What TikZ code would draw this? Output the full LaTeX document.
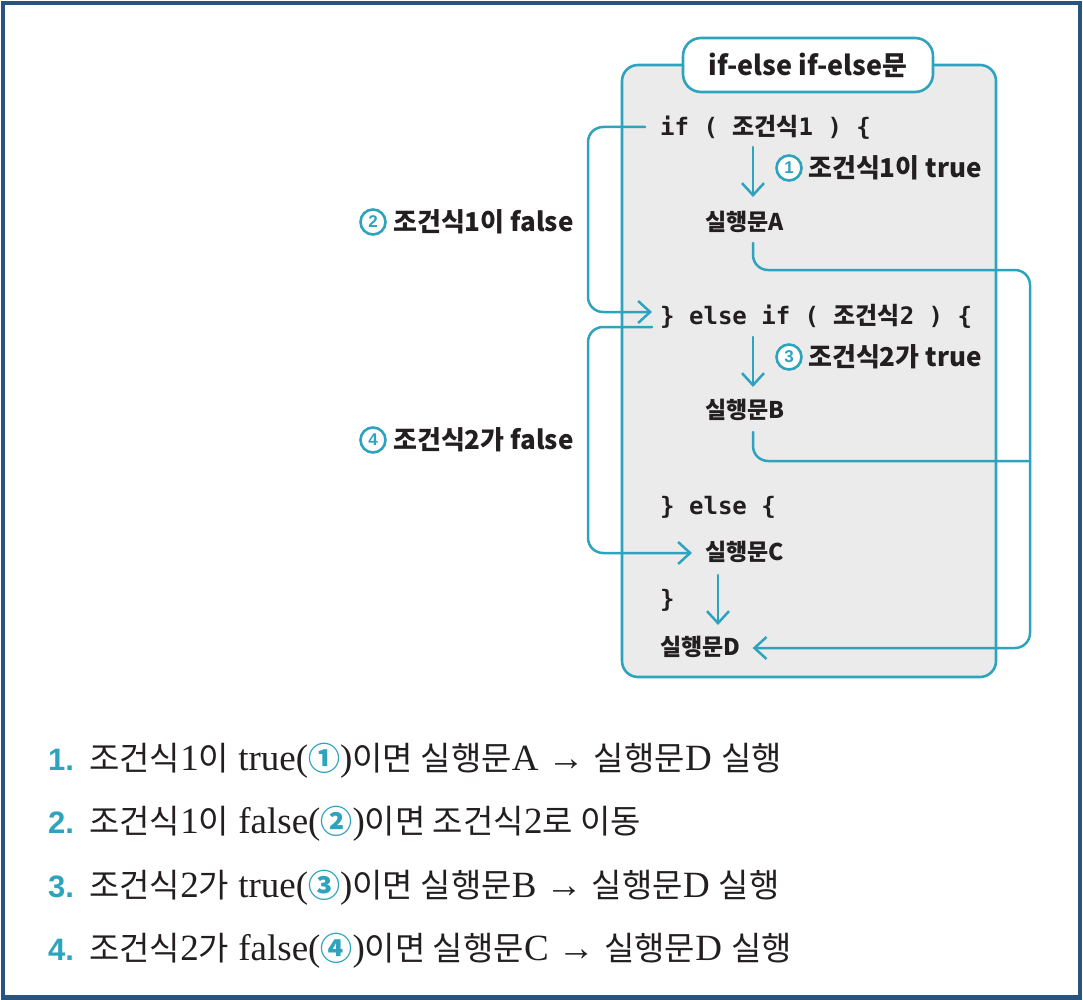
\documentclass[tikz,border=0pt]{standalone}
\usepackage{fontspec}
\setmainfont{Liberation Serif}
\newfontfamily\kr{Noto Sans CJK KR}
\newfontfamily\codef{DejaVu Sans Mono}
\newfontfamily\numf{Liberation Sans}
\usetikzlibrary{arrows.meta,calc}
\definecolor{tl}{RGB}{45,163,190}
\definecolor{framec}{RGB}{40,84,128}
\definecolor{boxgray}{RGB}{235,235,235}
\definecolor{ink}{RGB}{35,31,32}
\newcommand\KR[1]{{\fontsize{33}{38}\kr #1}}
\newcommand\CIR[1]{{\fontsize{32}{38}\kr\bfseries\color{tl}#1}}
\begin{document}
\begin{tikzpicture}[x=1pt,y=-1pt,
  conn/.style={draw=tl, line width=2.5pt, line cap=round},
  arr/.style={conn, -{Straight Barb[length=12pt,width=22pt]}},
  code/.style={anchor=west, inner sep=0pt, text=ink, font=\fontsize{24}{28}\codef\bfseries},
  stmt/.style={anchor=west, inner sep=0pt, text=ink, font=\fontsize{23}{27}\kr\bfseries},
  lbl/.style={anchor=west, inner sep=0pt, text=ink, font=\fontsize{26}{30}\kr\bfseries},
  cnum/.style={circle, draw=tl, line width=2.6pt, fill=white, minimum size=25pt, inner sep=0pt, text=tl, font=\fontsize{17}{17}\numf\bfseries},
  numst/.style={anchor=base west, inner sep=0pt, text=tl, font=\fontsize{31}{36}\numf\bfseries},
  lst/.style={anchor=base west, inner sep=0pt, text=ink, font=\fontsize{37}{40}\selectfont}
]
\useasboundingbox (0,0) rectangle (1083,1000);
\draw[framec, line width=4.5pt] (3,3) rectangle (1080,997.5);

% main box and title
\node[draw=tl, line width=2.6pt, fill=boxgray, rounded corners=16pt, minimum width=374pt, minimum height=612pt, inner sep=0pt] (box) at (809,371) {};
\node[draw=tl, line width=2.6pt, fill=white, rounded corners=18pt, minimum width=250pt, minimum height=54pt, inner sep=0pt, text=ink, font=\fontsize{27}{32}\kr\bfseries] (title) at (808,65) {if-else if-else문};

% code text
\node[code] (if1) at (660,127) {if ( {\kr 조건식}1 ) \{};
\node[cnum] (c1) at (789,168) {1};
\node[lbl] (t1) at (808,168) {조건식1이 true};
\node[stmt] (A) at (705,222) {실행문A};
\node[code] (elif) at (660,316) {\} else if ( {\kr 조건식}2 ) \{};
\node[cnum] (c3) at (789,357) {3};
\node[lbl] (t3) at (808,357) {조건식2가 true};
\node[stmt] (B) at (705,410) {실행문B};
\node[code] (els) at (660,507) {\} else \{};
\node[stmt] (C) at (705,552) {실행문C};
\node[code] (cls) at (660,600) {\}};
\node[stmt] (D) at (660,647) {실행문D};
\node[cnum] (c2) at (373,222) {2};
\node[lbl] (t2) at (393,222) {조건식1이 false};
\node[cnum] (c4) at (373,440) {4};
\node[lbl] (t4) at (393,440) {조건식2가 false};

% guide coordinates
\coordinate (colA) at (753,0);
\coordinate (colC) at (718,0);
\coordinate (loopL) at (588,0);
\coordinate (loopR) at (1030,0);

% straight arrows
\draw[arr] ($(if1.west -| colA)+(0,20)$) -- ($(A.west -| colA)+(0,-25)$);
\draw[arr] ($(elif.west -| colA)+(0,21)$) -- ($(B.west -| colA)+(0,-23)$);
\draw[arr] ($(C.west -| colC)+(0,23)$) -- ($(D.west -| colC)+(0,-22)$);

% right routes to D
\draw[arr, rounded corners=15pt] ($(A.west -| colA)+(0,21)$) |- ($(A.west -| loopR)+(0,48)$) |- ($(D.east)+(12,1)$);
\draw[conn, rounded corners=15pt] ($(B.west -| colA)+(0,22)$) |- ($(B.west -| loopR)+(0,51)$);

% left loops
\draw[arr, rounded corners=15pt] ($(if1.west)+(-15,0)$) -| (loopL |- c2) |- ($(elif.west)+(-8,-4)$);
\draw[arr, rounded corners=15pt] ($(elif.west)+(-8,11)$) -| (loopL |- c4) |- ($(C.west)+(-13,1)$);

% explanation list
\node[numst] (n1) at (48,770) {1.};
\node[lst] (l1) at (89,770) {\KR{조건식}1\KR{이} true(\CIR{①})\KR{이면 실행문}A → \KR{실행문}D \KR{실행}};
\node[numst] (n2) at (48,833) {2.};
\node[lst] (l2) at (89,833) {\KR{조건식}1\KR{이} false(\CIR{②})\KR{이면 조건식}2\KR{로 이동}};
\node[numst] (n3) at (48,897) {3.};
\node[lst] (l3) at (89,897) {\KR{조건식}2\KR{가} true(\CIR{③})\KR{이면 실행문}B → \KR{실행문}D \KR{실행}};
\node[numst] (n4) at (48,960) {4.};
\node[lst] (l4) at (89,960) {\KR{조건식}2\KR{가} false(\CIR{④})\KR{이면 실행문}C → \KR{실행문}D \KR{실행}};
\end{tikzpicture}
\end{document}
